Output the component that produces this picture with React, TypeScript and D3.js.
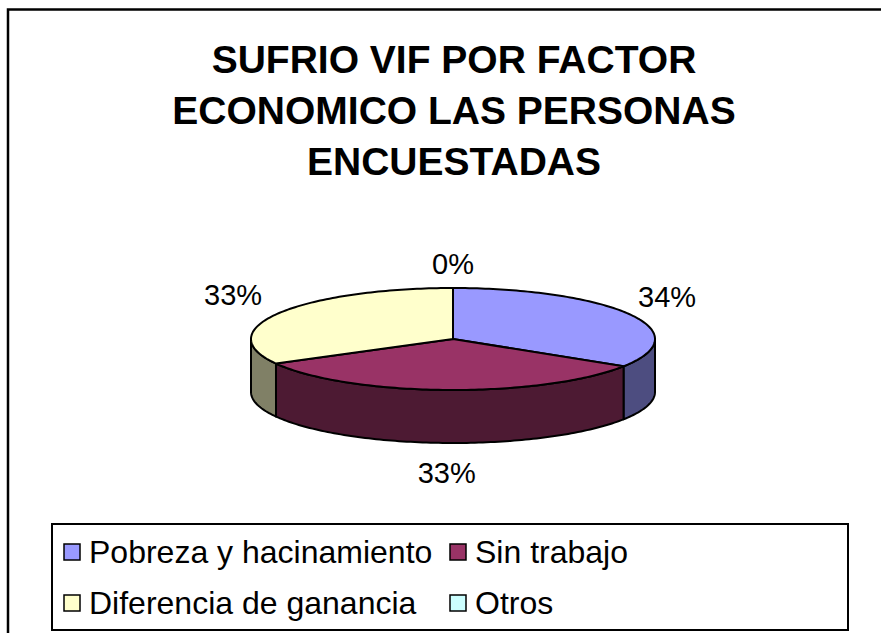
import React from "react";
import * as d3 from "d3";

const titleLines = ["SUFRIO VIF POR FACTOR", "ECONOMICO LAS PERSONAS", "ENCUESTADAS"];
const categories = ["Pobreza y hacinamiento", "Sin trabajo", "Diferencia de ganancia", "Otros"];
const values = [34, 33, 33, 0];
const labels = ["34%", "33%", "33%", "0%"];
const topColors = ["#9999FF", "#993366", "#FFFFCC", "#CCFFFF"];
const sideColors = ["#4D4D80", "#4D1A33", "#808066", "#668080"];

const W = 881;
const H = 633;
const cx = 453;
const cy = 339;
const rx = 202;
const ry = 51;
const depth = 53;

function pt(a: number, dy = 0): [number, number] {
  return [cx + rx * Math.sin(a), cy - ry * Math.cos(a) + dy];
}

export default function App() {
  const pie = d3.pie<number>().sort(null).value((d) => d)(values);
  const line = d3.line();

  const arcPts = (a0: number, a1: number, dy = 0) => {
    const n = Math.max(2, Math.ceil(Math.abs(a1 - a0) / 0.02));
    return d3.range(n + 1).map((i) => pt(a0 + ((a1 - a0) * i) / n, dy));
  };

  const walls = pie
    .map((p, i) => {
      const a0 = Math.max(p.startAngle, Math.PI / 2);
      const a1 = Math.min(p.endAngle, (3 * Math.PI) / 2);
      if (a1 <= a0) return null;
      const top = arcPts(a0, a1);
      const bot = arcPts(a1, a0, depth);
      return { i, d: line([...top, ...bot])! + "Z" };
    })
    .filter(Boolean) as { i: number; d: string }[];

  const tops = pie.map((p, i) => {
    if (p.endAngle - p.startAngle <= 0) return null;
    const pts = [[cx, cy] as [number, number], ...arcPts(p.startAngle, p.endAngle)];
    return { i, d: line(pts)! + "Z" };
  }).filter(Boolean) as { i: number; d: string }[];

  const labelPos = pie.map((p, i) => {
    const a = (p.startAngle + p.endAngle) / 2;
    const s = Math.sin(a);
    const c = Math.cos(a);
    const [x0, y0] = pt(a, c < 0 ? -c * depth : 0);
    let x = x0;
    let anchor: "start" | "end" | "middle" = "middle";
    if (Math.abs(s) > 0.5) {
      anchor = s > 0 ? "start" : "end";
      x = x0 + (s > 0 ? 8 : -17);
    }
    const dy = c >= 0 ? -6 - 8 * c * c : 10 + 30 * c * c;
    return { x, y: y0 + dy, anchor, text: labels[i] };
  });

  const legendCols = [64, 450];
  const legendRows = [544, 595];

  return (
    <svg width={W} height={H} style={{ position: "absolute", left: 0, top: 0, background: "#fff" }}>
      <rect x={8} y={9.5} width={W + 20} height={H + 20} fill="#fff" stroke="#000" strokeWidth={2.5} />
      <g fontFamily="'Liberation Sans', Arial, sans-serif" fontWeight="bold" fontSize={39} textAnchor="middle">
        {titleLines.map((t, i) => (
          <text key={i} x={454} y={73 + i * 51}>{t}</text>
        ))}
      </g>
      <g stroke="#000" strokeWidth={2} strokeLinejoin="round">
        {walls.map((w) => (
          <path key={"w" + w.i} d={w.d} fill={sideColors[w.i]} />
        ))}
        {tops.map((t) => (
          <path key={"t" + t.i} d={t.d} fill={topColors[t.i]} />
        ))}
      </g>
      <g fontFamily="'Liberation Sans', Arial, sans-serif" fontSize={29} fill="#000">
        {labelPos.map((l, i) => (
          <text key={i} x={l.x} y={l.y} textAnchor={l.anchor}>{l.text}</text>
        ))}
      </g>
      <rect x={52} y={524} width={796} height={106} fill="#fff" stroke="#000" strokeWidth={2} />
      <g fontFamily="'Liberation Sans', Arial, sans-serif" fontSize={32} fill="#000">
        {categories.map((c, i) => {
          const x = legendCols[i % 2];
          const y = legendRows[Math.floor(i / 2)];
          return (
            <g key={c}>
              <rect x={x} y={y} width={16} height={16} fill={topColors[i]} stroke="#000" strokeWidth={1.5} />
              <text x={x + 25} y={y + 19}>{c}</text>
            </g>
          );
        })}
      </g>
    </svg>
  );
}
